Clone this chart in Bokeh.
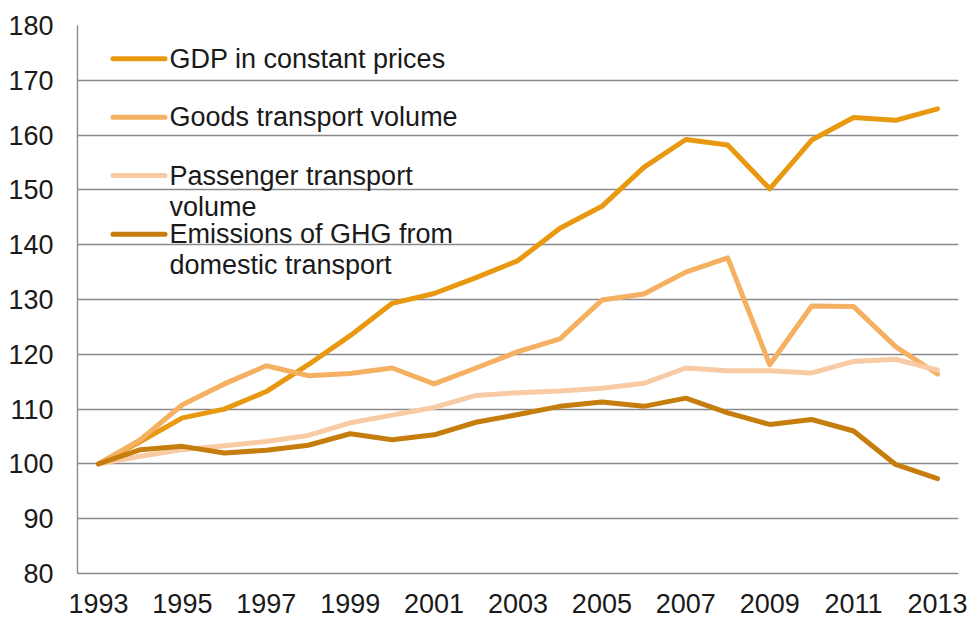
from bokeh.plotting import figure
from bokeh.models import ColumnDataSource, FixedTicker, Label, BoxAnnotation, Range1d
from bokeh.embed import file_html
from bokeh.resources import INLINE

years = list(range(1993, 2014))
gdp = [100, 104.1, 108.4, 110.0, 113.2, 118.1, 123.4, 129.3, 131.1, 134.0, 137.1,
       143.0, 147.0, 154.1, 159.2, 158.2, 150.2, 159.1, 163.2, 162.7, 164.8]
goods = [100, 104.4, 110.8, 114.6, 117.9, 116.1, 116.5, 117.5, 114.6, 117.5, 120.5,
         122.8, 129.9, 131.0, 135.0, 137.6, 118.1, 128.8, 128.7, 121.4, 116.4]
passenger = [100, 101.4, 102.6, 103.3, 104.1, 105.2, 107.5, 108.9, 110.3, 112.5, 113.0,
             113.3, 113.8, 114.7, 117.5, 117.0, 117.0, 116.6, 118.7, 119.1, 117.1]
emissions = [100, 102.6, 103.2, 102.0, 102.5, 103.4, 105.5, 104.4, 105.3, 107.6, 109.0,
             110.5, 111.3, 110.5, 112.0, 109.3, 107.2, 108.1, 106.0, 99.9, 97.3]

series_names = ["GDP in constant prices", "Goods transport volume",
                "Passenger transport\nvolume", "Emissions of GHG from\ndomestic transport"]
series_values = [gdp, goods, passenger, emissions]
series_colors = ["#E8990F", "#F5B062", "#F9CBA5", "#C57E0E"]
x_ticks = list(range(1993, 2014, 2))
y_ticks = list(range(80, 181, 10))

FONT = "Liberation Sans"
W, H = 968, 618
LEFT, RIGHT, TOP, BOTTOM = 77, 10, 25, 45
FH = H - TOP - BOTTOM

p = figure(width=W, height=H, output_backend="svg", toolbar_location=None,
           x_range=Range1d(1992.5, 2013.5), y_range=Range1d(80, 180),
           min_border_left=LEFT, min_border_right=RIGHT,
           min_border_top=TOP, min_border_bottom=BOTTOM)
p.outline_line_color = None
p.background_fill_color = "white"
p.border_fill_color = "white"

p.xgrid.grid_line_color = None
p.ygrid.ticker = FixedTicker(ticks=y_ticks)
p.ygrid.grid_line_color = "#8A8A8A"
p.ygrid.grid_line_width = 1.4

p.xaxis.ticker = FixedTicker(ticks=x_ticks)
p.yaxis.ticker = FixedTicker(ticks=y_ticks)
for ax in (p.xaxis[0], p.yaxis[0]):
    ax.axis_line_color = "#8A8A8A"
    ax.axis_line_width = 1.4
    ax.major_tick_line_color = None
    ax.minor_tick_line_color = None
    ax.major_label_text_font = FONT
    ax.major_label_text_font_size = "27px"
    ax.major_label_text_color = "#1a1a1a"
p.xaxis.major_label_standoff = 14
p.yaxis.major_label_standoff = 18

for vals, col in zip(series_values, series_colors):
    src = ColumnDataSource(dict(x=years, y=vals))
    p.line("x", "y", source=src, line_color=col, line_width=5,
           line_join="round", line_cap="round")

# legend (manual, to reproduce the wrapped labels)
item_offsets = [33.3, 91.7, 150.0, 208.7]   # px below the frame top
line_gap = 31
for name, col, off in zip(series_names, series_colors, item_offsets):
    cy = FH - off
    p.add_layout(BoxAnnotation(left=33, right=90, bottom=cy - 2.5, top=cy + 2.5,
                               left_units="screen", right_units="screen",
                               top_units="screen", bottom_units="screen",
                               fill_color=col, fill_alpha=1, line_color=None,
                               border_radius=3))
    for i, part in enumerate(name.split("\n")):
        p.add_layout(Label(x=92, y=cy - i * line_gap, x_units="screen", y_units="screen",
                           text=part, text_font=FONT, text_font_size="27px",
                           text_color="#1a1a1a", text_baseline="middle", text_align="left"))

open("out.html", "w").write(file_html(p, INLINE))
